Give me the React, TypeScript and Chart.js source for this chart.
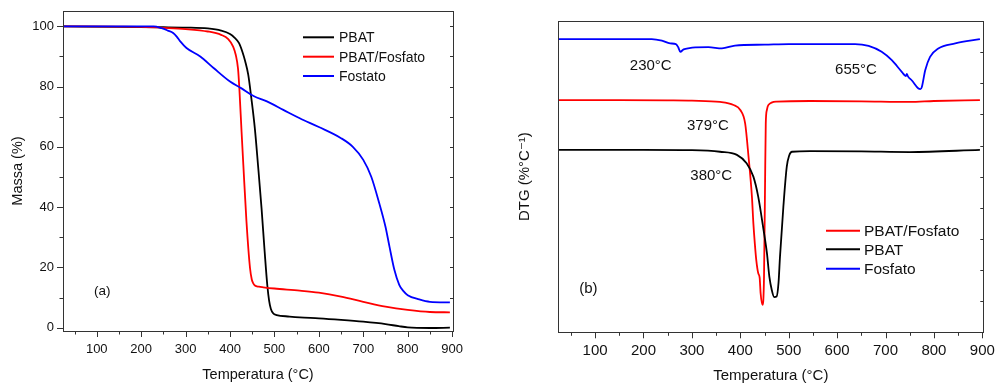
import React, { useEffect, useRef } from 'react';
import { Chart, registerables } from 'chart.js';
Chart.register(...registerables);

const FONT = "'Liberation Sans', Arial, 'DejaVu Sans', sans-serif";
const TEXT = '#111';
const AXIS = '#333';

// ---------- (a) TGA ----------
const pbatTgaT = [25, 150, 250, 300, 350, 380, 400, 410, 420, 428, 434, 441, 448, 456, 463, 471, 478, 484, 488, 492, 497, 505, 534, 557, 600, 650, 700, 750, 780, 800, 850, 895];
const pbatTgaM = [100, 99.8, 99.7, 99.6, 99.3, 98.6, 97.5, 96.3, 94.5, 91.5, 88.5, 84, 76.2, 66, 54, 39.6, 25.2, 14, 9, 6.2, 4.8, 4.2, 3.7, 3.4, 3.1, 2.6, 2.0, 1.2, 0.5, 0.1, -0.1, 0.0];

const blendTgaT = [25, 150, 200, 250, 300, 350, 380, 396, 407, 413, 418, 421, 426, 430, 437, 445, 449, 452, 456, 465, 475, 500, 557, 600, 650, 700, 750, 800, 850, 895];
const blendTgaM = [100, 99.9, 99.8, 99.5, 99.1, 98.3, 97.2, 95.8, 93.3, 90.5, 86, 79.5, 65, 54, 35.3, 19.8, 16, 14.8, 14, 13.6, 13.4, 13.0, 12.3, 11.6, 10.3, 8.6, 7.0, 5.9, 5.2, 5.1];

const fosTgaT = [25, 150, 228, 246, 260, 272, 280, 288, 302, 333, 363, 400, 425, 453, 483, 520, 557, 600, 650, 676, 700, 718, 736, 750, 759, 770, 781, 790, 800, 826, 850, 895];
const fosTgaM = [100, 100, 100, 99.4, 98.6, 97.8, 96.6, 95, 92.8, 90, 86.2, 81.7, 79.5, 76.9, 75.1, 72.3, 69.5, 66.6, 62.9, 60.1, 55.7, 50.1, 41.3, 33.5, 26.9, 19.2, 14.2, 12.2, 10.8, 9.4, 8.6, 8.4];

// ---------- (b) DTG (arbitrary units) ----------
const fosDtgT = [25, 217, 238, 255, 267, 272, 276, 283, 295, 307, 334, 362, 389, 450, 500, 637, 665, 692, 713, 734, 742, 744, 746, 755, 768, 772, 775, 782, 792, 809, 844, 895];
const fosDtgY = [94.2, 94.2, 93.7, 92.8, 92.6, 91.5, 90.1, 90.9, 91.3, 91.5, 91.6, 91.2, 92.1, 92.4, 92.6, 92.6, 92.0, 90.1, 87.4, 83.6, 82.3, 83.0, 82.3, 80.8, 78.3, 78.1, 78.8, 84.2, 88.5, 91.2, 92.8, 94.2];

const blendDtgT = [25, 150, 250, 300, 358, 386, 400, 410, 417, 424, 427, 430, 433, 437, 440, 442, 446, 449, 451, 452.6, 455, 458, 475, 544, 650, 750, 800, 895];
const blendDtgY = [74.6, 74.6, 74.5, 74.4, 74.0, 73.0, 71.4, 67.1, 56.4, 43.6, 35.0, 28.5, 23.2, 19.0, 17.5, 12.5, 8.8, 17.9, 45.7, 67.1, 71.5, 73.0, 74.1, 74.3, 74.2, 74.0, 74.3, 74.6];

const pbatDtgT = [25, 200, 300, 358, 393, 413, 427, 437, 448, 455, 460, 465, 470, 475, 479, 482, 489, 496, 501, 507, 544, 650, 750, 895];
const pbatDtgY = [58.6, 58.6, 58.5, 58.0, 57.0, 54.3, 50.0, 43.6, 32.9, 25.4, 17.9, 13.6, 11.3, 11.5, 16, 24.3, 40.4, 53.2, 56.8, 58.0, 58.2, 58.1, 57.9, 58.6];

// ---------- axes / labels ----------
const xTickValues = [100, 200, 300, 400, 500, 600, 700, 800, 900];
const tgaYTickValues = [0, 20, 40, 60, 80, 100];
const legendA = ['PBAT', 'PBAT/Fosfato', 'Fostato'];
const legendAColors = ['#000000', '#ff0000', '#0000ff'];
const legendB = ['PBAT/Fosfato', 'PBAT', 'Fosfato'];
const legendBColors = ['#ff0000', '#000000', '#0000ff'];
const notesA = ['(a)'];
const notesAX = [112.6];
const notesAY = [12.0];
const notesB = ['230°C', '655°C', '379°C', '380°C', '(b)'];
const notesBX = [215, 639, 333, 340, 86];
const notesBY = [85.5, 84.2, 66.3, 50.3, 14.1];

const X_MIN = 24;
const X_MAX = 902;

const pts = (xs: number[], ys: number[]) => xs.map((x, i) => ({ x, y: ys[i] }));

const decorPlugin = {
  id: 'decor',
  afterDatasetsDraw(chart: any, _args: any, o: any) {
    const { ctx, chartArea: a, scales } = chart;
    const xs = scales.x;
    const ys = scales.y;
    ctx.save();
    // frame
    ctx.strokeStyle = AXIS;
    ctx.lineWidth = 1;
    ctx.strokeRect(Math.round(a.left) + 0.5, Math.round(a.top) + 0.5, Math.round(a.right - a.left), Math.round(a.bottom - a.top));
    // bottom ticks (outward)
    ctx.beginPath();
    for (let v = 50; v <= 900; v += 50) {
      const px = Math.round(xs.getPixelForValue(v)) + 0.5;
      const len = v % 100 === 0 ? 6 : 3.5;
      ctx.moveTo(px, a.bottom);
      ctx.lineTo(px, a.bottom + len);
    }
    // left ticks (outward) for TGA
    if (o.leftTicks) {
      for (let v = 0; v <= 100; v += 10) {
        const py = Math.round(ys.getPixelForValue(v)) + 0.5;
        const len = v % 20 === 0 ? 6 : 3.5;
        ctx.moveTo(a.left, py);
        ctx.lineTo(a.left - len, py);
      }
    }
    // right ticks (inward)
    for (let v = 10; v < o.rightMax; v += 10) {
      const py = Math.round(ys.getPixelForValue(v)) + 0.5;
      ctx.moveTo(a.right, py);
      ctx.lineTo(a.right - 3, py);
    }
    ctx.stroke();

    // legend
    const fs = o.legendFont;
    ctx.font = `${fs}px ${FONT}`;
    ctx.textBaseline = 'middle';
    ctx.textAlign = 'left';
    o.legend.forEach((t: string, i: number) => {
      const y = a.top + o.legendY[i];
      const x0 = a.left + o.legendX;
      ctx.strokeStyle = o.legendColors[i];
      ctx.lineWidth = 2;
      ctx.beginPath();
      ctx.moveTo(x0, y);
      ctx.lineTo(x0 + o.legendLen, y);
      ctx.stroke();
      ctx.fillStyle = TEXT;
      ctx.fillText(t, x0 + o.legendLen + o.legendGap, y + 1);
    });

    // notes
    ctx.font = `${o.noteFont}px ${FONT}`;
    ctx.textAlign = 'center';
    ctx.fillStyle = TEXT;
    o.notes.forEach((t: string, i: number) => {
      ctx.fillText(t, xs.getPixelForValue(o.notesX[i]), ys.getPixelForValue(o.notesY[i]));
    });
    ctx.restore();
  },
};

const lineDs = (label: string, xs: number[], ys: number[], color: string) => ({
  label,
  data: pts(xs, ys),
  borderColor: color,
  backgroundColor: color,
  borderWidth: 1.8,
  pointRadius: 0,
  fill: false,
  cubicInterpolationMode: 'monotone' as const,
});

function makeConfig(panel: 'a' | 'b'): any {
  const isA = panel === 'a';
  const tickFont = isA ? 13 : 15;
  const titleFont = isA ? 14.5 : 15;
  const datasets = isA
    ? [
        lineDs('Fostato', fosTgaT, fosTgaM, '#0000ff'),
        lineDs('PBAT/Fosfato', blendTgaT, blendTgaM, '#ff0000'),
        lineDs('PBAT', pbatTgaT, pbatTgaM, '#000000'),
      ]
    : [
        lineDs('Fosfato', fosDtgT, fosDtgY, '#0000ff'),
        lineDs('PBAT', pbatDtgT, pbatDtgY, '#000000'),
        lineDs('PBAT/Fosfato', blendDtgT, blendDtgY, '#ff0000'),
      ];
  return {
    type: 'line',
    data: { datasets },
    plugins: [decorPlugin],
    options: {
      animation: false,
      responsive: false,
      devicePixelRatio: 1,
      events: [],
      layout: { padding: isA ? { left: 0, top: 11, right: 44, bottom: 0 } : { left: 0, top: 21, right: 11.7, bottom: 0 } },
      scales: {
        x: {
          type: 'linear',
          min: X_MIN,
          max: X_MAX,
          afterBuildTicks: (s: any) => {
            s.ticks = xTickValues.map((v) => ({ value: v }));
          },
          afterFit: (s: any) => {
            s.height = isA ? 52 : 50.7;
            s.paddingLeft = 0;
            s.paddingRight = 0;
          },
          grid: { display: false, drawTicks: false },
          border: { display: false },
          ticks: { padding: isA ? 11 : 10, color: TEXT, font: { family: FONT, size: tickFont }, maxRotation: 0, autoSkip: false },
          title: {
            display: true,
            text: 'Temperatura (°C)',
            color: TEXT,
            font: { family: FONT, size: titleFont, lineHeight: 1 },
            padding: { top: 0, bottom: isA ? 1 : 0 },
          },
        },
        y: {
          type: 'linear',
          min: isA ? -1.1 : 0,
          max: isA ? 105.1 : 100,
          afterBuildTicks: (s: any) => {
            s.ticks = isA ? tgaYTickValues.map((v) => ({ value: v })) : [];
          },
          afterFit: (s: any) => {
            s.width = isA ? 63 : 61.3;
            s.paddingTop = 0;
            s.paddingBottom = 0;
          },
          grid: { display: false, drawTicks: false },
          border: { display: false },
          ticks: { display: isA, padding: 9, color: TEXT, font: { family: FONT, size: tickFont } },
          title: {
            display: true,
            text: isA ? 'Massa (%)' : 'DTG (%°C⁻¹)',
            color: TEXT,
            font: { family: FONT, size: titleFont, lineHeight: 1 },
            padding: { top: isA ? 11 : 20.5, bottom: 0 },
          },
        },
      },
      plugins: {
        legend: { display: false },
        tooltip: { enabled: false },
        decor: isA
          ? {
              leftTicks: true,
              rightMax: 101,
              legend: legendA,
              legendColors: legendAColors,
              legendX: 240,
              legendY: [26.3, 45.7, 65],
              legendLen: 31,
              legendGap: 5,
              legendFont: 14,
              notes: notesA,
              notesX: notesAX,
              notesY: notesAY,
              noteFont: 13.5,
            }
          : {
              leftTicks: false,
              rightMax: 100,
              legend: legendB,
              legendColors: legendBColors,
              legendX: 267.7,
              legendY: [209.7, 228.3, 247.7],
              legendLen: 34,
              legendGap: 4,
              legendFont: 15.5,
              notes: notesB,
              notesX: notesBX,
              notesY: notesBY,
              noteFont: 15,
            },
      },
    },
  };
}

function Panel({ panel, left, width }: { panel: 'a' | 'b'; left: number; width: number }) {
  const ref = useRef<HTMLCanvasElement>(null);
  useEffect(() => {
    const chart = new Chart(ref.current as HTMLCanvasElement, makeConfig(panel));
    return () => chart.destroy();
  }, [panel]);
  return (
    <canvas
      ref={ref}
      width={width}
      height={383}
      style={{ position: 'absolute', left, top: 0, width, height: 383, display: 'block' }}
    />
  );
}

export default function App() {
  return (
    <div style={{ position: 'absolute', left: 0, top: 0, width: 995, height: 383, background: '#fff', overflow: 'hidden' }}>
      <Panel panel="a" left={0} width={497} />
      <Panel panel="b" left={497} width={498} />
    </div>
  );
}
